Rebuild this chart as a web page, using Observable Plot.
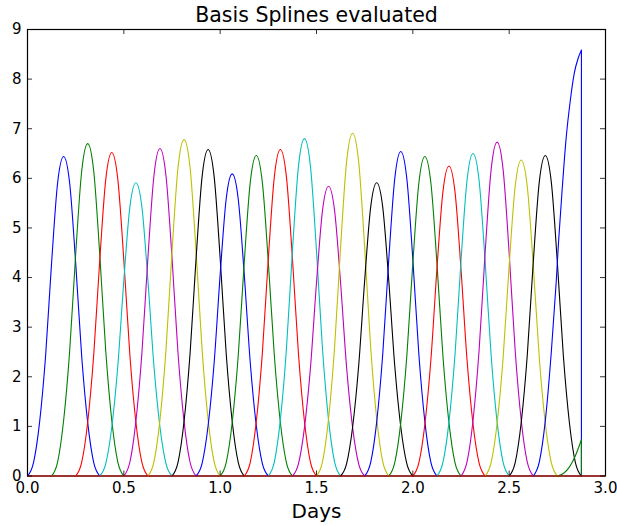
<!DOCTYPE html>
<html><head><meta charset="utf-8">
<script src="https://cdn.jsdelivr.net/npm/d3@7"></script>
<script src="https://cdn.jsdelivr.net/npm/@observablehq/plot@0.6"></script>
<style>html,body{margin:0;padding:0;background:#fff;} svg{display:block;}</style>
</head><body><div id="chart"></div>
<script>
const title = "Basis Splines evaluated";
const xLabel = "Days";
const xTicks = [0, 0.5, 1, 1.5, 2, 2.5, 3];
const yTicks = [0, 1, 2, 3, 4, 5, 6, 7, 8, 9];
const knotStep = 0.125;
const bumpStarts = [0, 0.125, 0.25, 0.375, 0.5, 0.625, 0.75, 0.875, 1.0, 1.125, 1.25, 1.375, 1.5, 1.625, 1.75, 1.875, 2.0, 2.125, 2.25, 2.375, 2.5];
const bumpPeaks  = [6.44, 6.70, 6.52, 5.91, 6.60, 6.78, 6.58, 6.09, 6.46, 6.58, 6.80, 5.84, 6.91, 5.91, 6.54, 6.44, 6.25, 6.50, 6.73, 6.37, 6.46];
const colorCycle = ["#0000ff", "#008000", "#ff0000", "#00bfbf", "#bf00bf", "#bfbf00", "#000000"];
// shape of one bump: position in knot steps, height as fraction of its peak
const profileOffsets = [0, 0.25, 0.5, 0.75, 1, 1.25, 1.5, 1.75, 2, 2.25, 2.5, 2.75, 3];
const profileShape   = [0, 0.042, 0.167, 0.375, 0.667, 0.917, 1, 0.917, 0.667, 0.375, 0.167, 0.042, 0];
// last two (truncated) splines
const lastBlueX = [2.625, 2.65625, 2.6875, 2.71875, 2.744, 2.757, 2.775, 2.795, 2.818, 2.838, 2.858, 2.875];
const lastBlueY = [0, 0.28, 1.11, 2.5, 3.9, 4.76, 5.77, 6.78, 7.59, 8.12, 8.42, 8.58];
const lastGreenX = [2.75, 2.78125, 2.8125, 2.84375, 2.875];
const lastGreenY = [0, 0.05, 0.18, 0.41, 0.73];
const lastColors = ["#0000ff", "#008000"];

const W = 617, H = 526, mL = 27, mR = 12, mT = 29, mB = 50.5;
const pw = W - mL - mR, ph = H - mT - mB;

const series = bumpStarts.map((s, i) => ({
  color: colorCycle[i % colorCycle.length],
  pts: profileOffsets.map((o, j) => ({x: s + o * knotStep, y: bumpPeaks[i] * profileShape[j]}))
}));
series.push({color: lastColors[0], pts: lastBlueX.map((x, j) => ({x, y: lastBlueY[j]}))});
series.push({color: lastColors[1], pts: lastGreenX.map((x, j) => ({x, y: lastGreenY[j]}))});
const drops = series.slice(-2).map(s => ({x: s.pts[s.pts.length - 1].x, top: s.pts[s.pts.length - 1].y, color: s.color}));

const marks = [Plot.frame({stroke: "black", strokeWidth: 1.2})];
for (const s of series) {
  marks.push(Plot.line(s.pts, {x: "x", y: "y", stroke: s.color, strokeWidth: 1.1, curve: "monotone-x"}));
}
for (const d of drops) {
  marks.push(Plot.ruleX([d], {x: "x", y1: 0, y2: "top", stroke: d.color, strokeWidth: 1.1}));
}
marks.push(Plot.ruleY([0], {stroke: "#d00000", strokeWidth: 1}));
const tl = 5;
marks.push(Plot.ruleX(xTicks, {stroke: "black", strokeWidth: 0.8, insetTop: ph - tl}));
marks.push(Plot.ruleX(xTicks, {stroke: "black", strokeWidth: 0.8, insetBottom: ph - tl}));
marks.push(Plot.ruleY(yTicks, {stroke: "black", strokeWidth: 0.8, insetRight: pw - tl}));
marks.push(Plot.ruleY(yTicks, {stroke: "black", strokeWidth: 0.8, insetLeft: pw - tl}));
marks.push(Plot.axisX(xTicks, {tickSize: 0, tickPadding: 6, tickFormat: d3.format(".1f"), fontSize: 15, label: null}));
marks.push(Plot.axisY(yTicks, {tickSize: 0, tickPadding: 6, tickFormat: d3.format("d"), fontSize: 15, label: null}));
marks.push(Plot.text([title], {frameAnchor: "top", dy: -7.5, lineAnchor: "bottom", fontSize: 20.5, fill: "black"}));
marks.push(Plot.text([xLabel], {frameAnchor: "bottom", dy: 42, lineAnchor: "bottom", fontSize: 20, fill: "black"}));

const chart = Plot.plot({
  width: W, height: H,
  marginLeft: mL, marginRight: mR, marginTop: mT, marginBottom: mB,
  x: {domain: [0, 3]},
  y: {domain: [0, 9]},
  style: {fontFamily: "DejaVu Sans", fontSize: "15px", color: "black", background: "white", overflow: "visible"},
  marks
});
document.getElementById("chart").appendChild(chart);
</script>
</body></html>
